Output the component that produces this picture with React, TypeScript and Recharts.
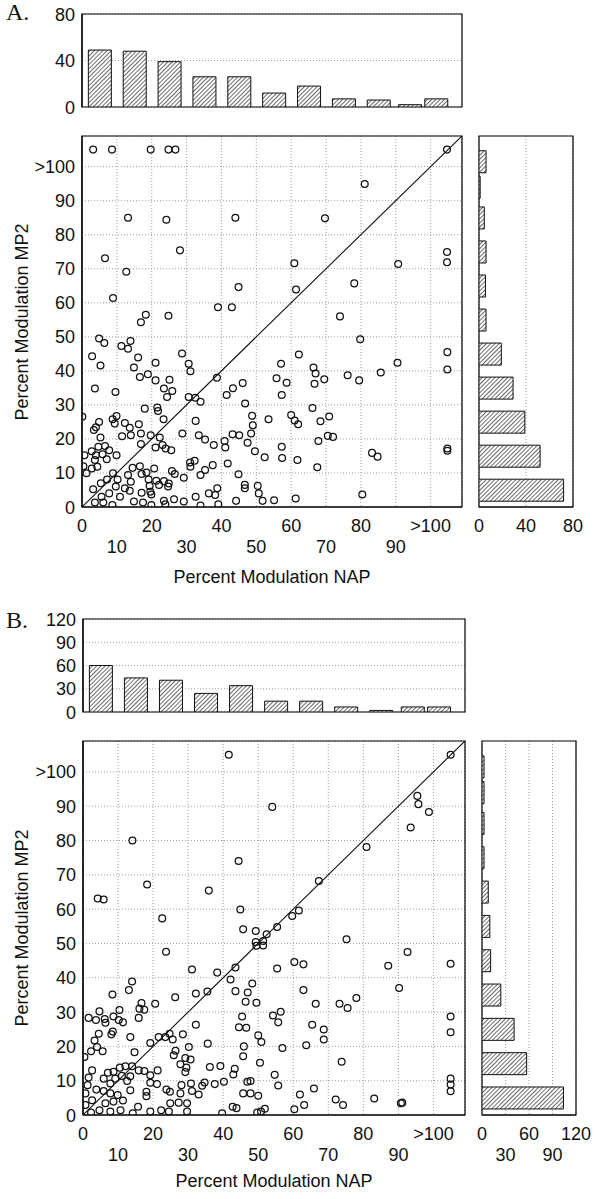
import React from "react";
import { ScatterChart, Scatter, BarChart, Bar, XAxis, YAxis, CartesianGrid, ReferenceLine, ReferenceArea } from "recharts";

const SANS = '"Liberation Sans", Arial, sans-serif';
const SERIF = '"Liberation Serif", "Times New Roman", serif';
const INK = "#111";

// percent modulation bins: 0-10 ... 90-100, >100
const binCenters = [5, 15, 25, 35, 45, 55, 65, 75, 85, 94, 101.5];
const modTicks = [0, 10, 20, 30, 40, 50, 60, 70, 80, 90, 100];
const MOD_MAX = 109;

// panel A histograms
const napCountsA = [49, 48, 39, 26, 26, 12, 18, 7, 6, 2, 7];
const mp2CountsA = [72, 52, 39, 29, 19, 6, 5.5, 6, 4.5, 1, 6];
const countTicksA = [0, 40, 80];

// panel B histograms
const napCountsB = [60, 44, 41, 24, 34, 14, 14, 6.5, 2, 6.5, 6.5];
const mp2CountsB = [104, 57, 41, 24, 11, 10, 8, 2.6, 2.6, 2.6, 2.6];
const countTicksB = [0, 30, 60, 90, 120];

// [NAP, MP2] per cell, panel A
const pointsA: [number, number][] = [
  [3.2, 105], [8.6, 105], [19.7, 105], [24.8, 105], [26.8, 105], [13.2, 85], [24.2, 84.4], [6.6, 73.1],
  [28.1, 75.4], [12.7, 69.1], [8.9, 61.4], [39, 58.7], [18.3, 56.5], [24.8, 56.2],
  [104.7, 105], [81.1, 94.9], [44, 85], [69.7, 84.8], [60.9, 71.6], [90.7, 71.4], [104.7, 74.9], [104.7, 71.9],
  [44.9, 64.6], [61.4, 63.9], [78.1, 65.7], [43, 58.7], [74, 56],
  [79.8, 49.3], [62.2, 44.8], [57.1, 42.1], [66.4, 41], [67, 39.2], [69.5, 37.5], [66.7, 36.2], [55.8, 37.8],
  [58.7, 36.5], [57.3, 32.9], [76.2, 38.7], [79.5, 37.2], [85.7, 39.5], [90.5, 42.4], [104.8, 45.5], [104.8, 40.4],
  [66.1, 29.1], [53.5, 25.8], [60, 27], [61, 25.4], [62, 24.3], [68.4, 25.2], [70.9, 26.6], [67.8, 19.4],
  [70.5, 20.9], [72, 20.6], [57.3, 17.7], [104.8, 17.2], [104.8, 16.5], [52.4, 14.6], [57.4, 14.4], [61.8, 13.8],
  [83.2, 15.9], [84.8, 14.8],
  [80.4, 3.7], [67.5, 11.7], [61.3, 2.5], [55.1, 2], [51.8, 1.8],
  [16.9, 54.3], [4.9, 49.5], [6.4, 48.2], [11.3, 47.3], [13.2, 46.5], [13.9, 48.8], [2.9, 44.3], [5.3, 41.6],
  [14.9, 41], [16.1, 43.9], [21.1, 42.4], [18.9, 39], [16.6, 38.2], [21.1, 37.2], [25.1, 37.4], [23.5, 34.8],
  [25.9, 34.1], [24.4, 32.3], [28.7, 45.1], [30.6, 42.1], [31.1, 39.9], [38.7, 38], [41.5, 32.9], [43.3, 34.9],
  [46.1, 36.4], [46.8, 30.4], [48.8, 26.8], [49, 24], [48.5, 21.6], [47.5, 18.9], [49.6, 16.4], [3.7, 34.8],
  [9.6, 33.8], [18, 28.9], [21.6, 29.2], [21.8, 28.2], [23.4, 25.8], [30.6, 32.3], [32.5, 32.1], [34, 30.9],
  [32.6, 25.3], [28.8, 21.6], [33.5, 21.1], [35.3, 19.8], [37.8, 18.2], [40.9, 19.4], [41.1, 17.5], [43.2, 21.4],
  [45.1, 21.1], [41.8, 12.8], [44.9, 9.6], [46.7, 6.5], [46.7, 5.5], [50.4, 6.2], [50.7, 4], [44.2, 1.8],
  [38.8, 5.5], [36.4, 4], [38.2, 3.5], [39.1, 0.8], [34, 0.4], [32.6, 3], [29.2, 1.6], [26.4, 2.3],
  [23.5, 1.8], [23.9, 0.8], [17.5, 1.3], [19.9, 0.6], [14.9, 1.6], [10.9, 3], [8.7, 0.6], [6.1, 1.3],
  [3.7, 1.3], [5.6, 3], [7.8, 4], [3.2, 5.2], [5.4, 7], [7.2, 8.1], [8.9, 9.9], [10.2, 8.1],
  [9.7, 6], [12.3, 5.5], [13.7, 4.8], [13.2, 9.4], [14, 7.4], [14.5, 11.5], [16.6, 12], [17.1, 9.7],
  [18.5, 10.1], [19.1, 8.1], [19.4, 6.2], [17.1, 4.2], [19.6, 4.5], [19.9, 3.7], [21.3, 7.7], [22.1, 6.5],
  [23.5, 7.6], [24.9, 6.9], [24.7, 6], [25.8, 10.6], [26.6, 9.7], [20.7, 11.3], [29.2, 8.6], [31.1, 11.8],
  [31, 13.1], [32.3, 13.6], [34, 9.4], [35.3, 10.9], [37.5, 12.3], [19.7, 21.1], [16.9, 21.6], [9.9, 15.2],
  [7.8, 16.7], [6.6, 17.9], [4.7, 17.7], [2.8, 16.4], [0.7, 15.2], [4, 15.2], [5.9, 15.5], [3.7, 13.8],
  [7.1, 14], [2.8, 11.3], [1.3, 9.9], [4.4, 11.8], [0.4, 12], [0.1, 26.5], [3.4, 22.6], [4, 23.4],
  [4.9, 25], [5.3, 20.4], [8.8, 25.8], [9.4, 24.5], [9.9, 26.7], [11.5, 20.8], [12.3, 24.7], [13.7, 23.3],
  [14, 21.1], [16.3, 24.3], [16.9, 18.5], [21.1, 17.5], [22.3, 20.4], [23.1, 18.2], [24, 17.2], [25.6, 16.7],
];

// [NAP, MP2] per cell, panel B
const pointsB: [number, number][] = [
  [41.6, 105], [104.9, 105], [54, 89.8], [95.4, 93], [95.7, 90.6], [98.7, 88.3], [93.5, 83.8], [80.9, 78.1],
  [14.1, 80], [44.4, 74], [67.3, 68.2], [18.3, 67.2], [35.9, 65.4], [4.2, 63.1], [5.9, 62.8], [22.6, 57.3],
  [44.9, 59.9], [59.7, 58], [61.6, 59.6], [45.7, 54.1], [55.4, 54.8],
  [75.2, 51.2], [92.6, 47.5], [104.9, 44.1], [87.1, 43.5], [60.3, 44.6], [62.9, 43.9], [55.4, 42.7], [62.9, 36.4],
  [90.2, 37], [66.4, 32.4], [73.2, 32.4], [75.5, 31.2], [78, 34.1], [54.2, 29], [56.4, 30.1], [55.7, 27],
  [65.4, 26.3], [68.7, 24.9], [68.7, 22], [63.7, 20.3], [56.9, 19.5], [104.9, 28.7], [104.9, 24.1], [73.8, 15.5],
  [54.7, 11.7], [55.7, 8.6], [104.9, 10.6], [104.9, 8.9], [104.9, 6.9], [65.9, 7.7], [61.9, 6], [63.1, 2.9],
  [60.3, 1.7], [72.1, 4.5], [74.2, 2.9], [83.1, 4.8], [91.1, 3.6], [90.7, 3.4],
  [49.3, 53.6], [49.3, 50.4], [51.4, 50.7], [49.5, 49.3], [51.4, 49.4], [52.4, 52.7], [23.7, 47.6], [31.1, 42.4],
  [38.3, 41.5], [43.5, 43], [42.1, 39.5], [48.3, 38.3], [43.5, 36.1], [47, 35.7], [46.4, 33], [49.5, 32.7],
  [14, 38.9], [13.1, 36.4], [8.4, 35.1], [16.7, 32.6], [17.5, 30.7], [16.1, 31], [15.9, 28.3], [20.6, 32.4],
  [26.3, 34.3], [32.2, 35.4], [35.5, 36], [32.2, 26.3], [35.6, 20.8], [4.7, 30.2], [1.6, 28.3], [3.7, 27.7],
  [6.2, 28], [6.4, 26.9], [8.7, 28.7], [10.4, 30.6], [10.2, 27.7], [11.4, 27], [8.5, 24.3], [8.1, 23.5],
  [4.5, 23.7], [3.3, 21.7], [4, 19.8], [2.3, 18.6], [5.6, 18.6], [0.4, 16.9], [13.5, 22.7], [14.7, 18.3],
  [19.2, 21], [21.6, 22.7], [24.7, 23.7], [23.5, 22.7], [25.6, 22], [28.5, 23.5], [30.2, 19.8], [25.9, 17.4],
  [26.4, 18.7], [29.2, 16.6], [30.7, 16.2], [27.8, 14.8], [29.5, 13.8], [29.2, 12.5], [36.2, 14], [39.2, 14.3],
  [43.3, 13.5], [42.9, 11.8], [40.2, 9.7], [37.6, 9], [46.9, 9.7], [47.8, 9.9], [50.5, 15.2], [50, 23.2],
  [50.9, 21.3], [45.9, 20], [45.7, 17.1], [44.5, 25.6], [46.6, 25.4], [45.4, 28.7], [34.7, 9.5], [34, 8.5],
  [33, 6], [31.1, 7], [30.8, 9.2], [28.1, 8.7], [27.8, 6.3], [29.7, 3.4], [29.7, 1], [27.3, 3.6],
  [24.9, 3.4], [24.5, 1], [22.3, 1.4], [19.2, 1], [15.7, 2.4], [14.2, 0.5], [18.1, 5.5], [18.1, 6.8],
  [23.8, 7.4], [24.8, 6.8], [21.1, 9], [19.2, 9.4], [19.2, 11.6], [21.3, 13], [17.5, 12.8], [15.9, 13],
  [12.1, 14.2], [10.5, 13.8], [8.7, 12.6], [7.1, 12.3], [14, 14.2], [13.5, 11.3], [12.6, 9.9], [13.5, 7.2],
  [11.1, 11.4], [7.8, 9.2], [9.2, 10.6], [5.9, 10.6], [2.6, 13], [1.6, 10.9], [1.3, 8.7], [3.8, 7.4],
  [5.9, 7], [7.8, 6.3], [9.9, 5.8], [11.4, 4.2], [8.7, 3.9], [6.4, 3.4], [2.6, 4.3], [0.7, 2.9],
  [4.7, 1.4], [7.8, 1], [10.7, 1.4], [2.3, 0.7], [0.7, 6.3], [39.7, 0.5], [42.7, 2.4], [43.8, 2],
  [49.7, 0.7], [50.8, 1], [51.9, 1.8], [45.7, 6.3], [47.8, 6.3], [50, 5.6],
];

// pixel layout of each panel (plot-area edges)
const layoutA = { letterTop: 0, histTop: 14, histBottom: 107, scatTop: 136, scatBottom: 507, left: 82, right: 462, rLeft: 479, rRight: 573, titleGap: 70 };
const layoutB = { letterTop: 608, histTop: 619, histBottom: 712, scatTop: 741, scatBottom: 1115, left: 83, right: 465, rLeft: 482, rRight: 576, titleGap: 66 };

const modLabel = (v: number) => (v >= 100 ? ">100" : String(v));

const hatchDefs = (id: string) => (
  <defs>
    <pattern id={id} width={3} height={3} patternUnits="userSpaceOnUse" patternTransform="rotate(45)">
      <rect width={3} height={3} fill="#fff" />
      <line x1={0} y1={0} x2={0} y2={3} stroke="#1a1a1a" strokeWidth={1.3} />
    </pattern>
  </defs>
);

const ring = (props: any) => (
  <circle cx={props.cx} cy={props.cy} r={3.4} fill="none" stroke={INK} strokeWidth={1.25} />
);

function BottomTick({ x, y, payload, index, labeler, twoRows }: any) {
  const lower = twoRows && index % 2 === 1;
  return (
    <text x={x} y={y + (lower ? 45.5 : 24.5)} textAnchor="middle" fontFamily={SANS} fontSize={18} fill={INK}>
      {labeler(payload.value)}
    </text>
  );
}

function LeftTick({ x, y, payload, labeler }: any) {
  return (
    <text x={x - 7} y={y + 6.5} textAnchor="end" fontFamily={SANS} fontSize={18} fill={INK}>
      {labeler(payload.value)}
    </text>
  );
}

const frameLine = { stroke: "#000", strokeWidth: 1.2 };
const gridProps = { stroke: "#a0a0a0", strokeDasharray: "1 2" };

function Panel({ lay, letter, points, napCounts, mp2Counts, countTicks, countTwoRows, id }: any) {
  const napBins = binCenters.map((bin, i) => ({ bin, count: napCounts[i] }));
  const mp2Bins = binCenters.map((bin, i) => ({ bin, count: mp2Counts[i] }));
  const cells = points.map(([x, y]: [number, number]) => ({ x, y }));
  const countMax = countTicks[countTicks.length - 1];
  const scatH = lay.scatBottom - lay.scatTop;
  const titleStyle: React.CSSProperties = {
    position: "absolute", width: 320, height: 20, lineHeight: "20px", textAlign: "center",
    fontFamily: SANS, fontSize: 18, color: INK, whiteSpace: "nowrap",
  };

  return (
    <>
      <div style={{ position: "absolute", left: 6, top: lay.letterTop, fontFamily: SERIF, fontSize: 24, lineHeight: "24px", color: INK }}>
        {letter}
      </div>

      {/* NAP histogram above */}
      <div style={{ position: "absolute", left: 0, top: lay.histTop - 14 }}>
        <BarChart width={lay.right + 8} height={lay.histBottom - lay.histTop + 24} data={napBins}
          margin={{ top: 14, right: 8, bottom: 10, left: 0 }}>
          {hatchDefs(`${id}-top`)}
          <CartesianGrid vertical={false} {...gridProps} />
          <XAxis type="number" dataKey="bin" domain={[0, MOD_MAX]} ticks={modTicks} allowDataOverflow
            height={0} tick={false} tickLine={false} axisLine={frameLine} />
          <YAxis type="number" domain={[0, countMax]} ticks={countTicks} allowDataOverflow width={lay.left}
            tickLine={false} tickSize={0} tickMargin={0} axisLine={frameLine} interval={0}
            tick={(p: any) => <LeftTick {...p} labeler={String} />} />
          <ReferenceArea x1={0} x2={MOD_MAX} y1={0} y2={countMax} fill="none" stroke="#000" strokeWidth={1.2} ifOverflow="extendDomain" />
          <Bar dataKey="count" fill={`url(#${id}-top)`} stroke="#111" strokeWidth={1} barSize={23} isAnimationActive={false} />
        </BarChart>
      </div>

      {/* scatter */}
      <div style={{ position: "absolute", left: 0, top: lay.scatTop - 10 }}>
        <ScatterChart width={lay.right + 8} height={scatH + 10 + 80} margin={{ top: 10, right: 8, bottom: 0, left: 0 }}>
          <CartesianGrid {...gridProps} />
          <XAxis type="number" dataKey="x" domain={[0, MOD_MAX]} ticks={modTicks} allowDataOverflow interval={0}
            height={80} tickLine={false} tickSize={0} tickMargin={0} axisLine={frameLine}
            tick={(p: any) => <BottomTick {...p} labeler={modLabel} twoRows />} />
          <YAxis type="number" dataKey="y" domain={[0, MOD_MAX]} ticks={modTicks} allowDataOverflow interval={0}
            width={lay.left} tickLine={false} tickSize={0} tickMargin={0} axisLine={frameLine}
            tick={(p: any) => <LeftTick {...p} labeler={modLabel} />} />
          <ReferenceArea x1={0} x2={MOD_MAX} y1={0} y2={MOD_MAX} fill="none" stroke="#000" strokeWidth={1.2} ifOverflow="extendDomain" />
          <ReferenceLine segment={[{ x: 0, y: 0 }, { x: MOD_MAX, y: MOD_MAX }]} stroke={INK} strokeWidth={1.1} ifOverflow="hidden" />
          <Scatter data={cells} shape={ring} isAnimationActive={false} />
        </ScatterChart>
      </div>

      {/* MP2 histogram at right */}
      <div style={{ position: "absolute", left: 470, top: lay.scatTop - 10 }}>
        <BarChart layout="vertical" width={125} height={scatH + 10 + 60} data={mp2Bins}
          margin={{ top: 10, right: 595 - lay.rRight, bottom: 0, left: lay.rLeft - 470 }}>
          {hatchDefs(`${id}-right`)}
          <CartesianGrid horizontal={false} {...gridProps} />
          <XAxis type="number" domain={[0, countMax]} ticks={countTicks} allowDataOverflow interval={0}
            height={60} tickLine={false} tickSize={0} tickMargin={0} axisLine={frameLine}
            tick={(p: any) => <BottomTick {...p} labeler={String} twoRows={countTwoRows} />} />
          <YAxis type="number" dataKey="bin" domain={[0, MOD_MAX]} ticks={modTicks} allowDataOverflow reversed
            width={0} tick={false} tickLine={false} axisLine={frameLine} />
          <ReferenceArea x1={0} x2={countMax} y1={0} y2={MOD_MAX} fill="none" stroke="#000" strokeWidth={1.2} ifOverflow="extendDomain" />
          <Bar dataKey="count" fill={`url(#${id}-right)`} stroke="#111" strokeWidth={1} barSize={22} isAnimationActive={false} />
        </BarChart>
      </div>

      {/* axis titles */}
      <div style={{ ...titleStyle, left: (lay.left + lay.right) / 2 - 160, top: lay.scatBottom + lay.titleGap - 10 }}>
        Percent Modulation NAP
      </div>
      <div style={{ ...titleStyle, left: 22 - 160, top: (lay.scatTop + lay.scatBottom) / 2 - 10, transform: "rotate(-90deg)" }}>
        Percent Modulation MP2
      </div>
    </>
  );
}

export default function App() {
  return (
    <div style={{ position: "absolute", left: 0, top: 0, width: 595, height: 1199, overflow: "hidden", background: "#fff" }}>
      <Panel lay={layoutA} letter="A." id="pa" points={pointsA} napCounts={napCountsA} mp2Counts={mp2CountsA}
        countTicks={countTicksA} countTwoRows={false} />
      <Panel lay={layoutB} letter="B." id="pb" points={pointsB} napCounts={napCountsB} mp2Counts={mp2CountsB}
        countTicks={countTicksB} countTwoRows />
    </div>
  );
}
